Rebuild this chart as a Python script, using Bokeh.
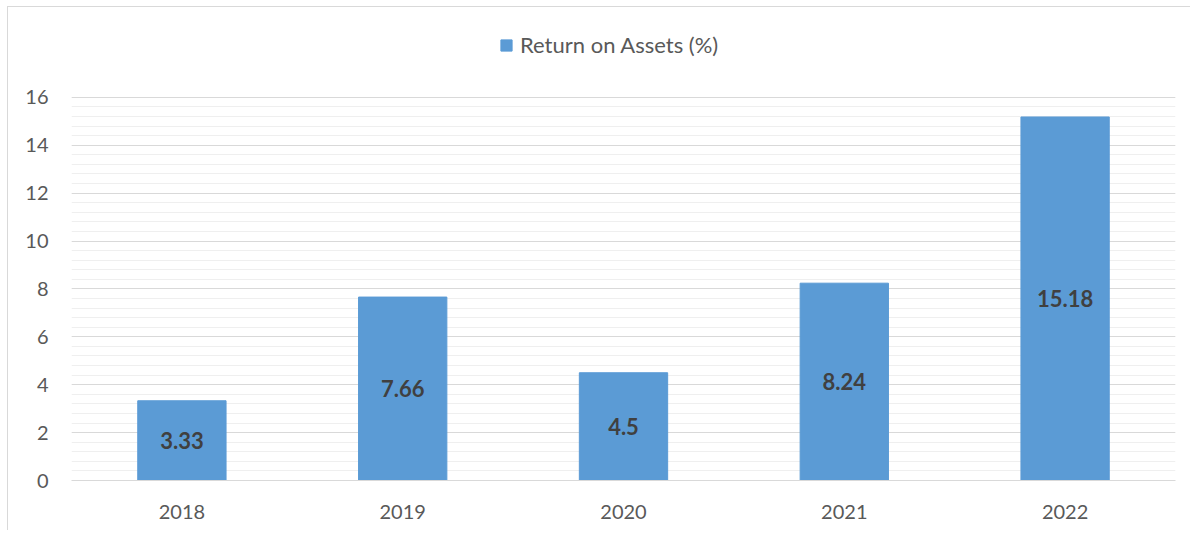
from bokeh.plotting import figure
from bokeh.models import ColumnDataSource, Legend, LegendItem, FixedTicker, Range1d
from bokeh.core.properties import value
from bokeh.embed import file_html
from bokeh.resources import INLINE

years = ["2018", "2019", "2020", "2021", "2022"]
roa = [3.33, 7.66, 4.5, 8.24, 15.18]
labels = ["3.33", "7.66", "4.5", "8.24", "15.18"]
y_ticks = [0, 2, 4, 6, 8, 10, 12, 14, 16]
series_name = "Return on Assets (%)"

src = ColumnDataSource(dict(x=years, top=roa, mid=[v / 2 for v in roa], lab=labels))

FONT = "Lato"
p = figure(x_range=years, y_range=Range1d(0, 19), width=1183, height=524,
           output_backend="svg", toolbar_location=None,
           min_border_left=63, min_border_right=16, min_border_top=18, min_border_bottom=51)
p.styles = {"border-left": "1px solid #d9d9d9", "border-top": "1px solid #d9d9d9",
            "margin-left": "7px", "margin-top": "6px"}
p.outline_line_color = None
p.background_fill_color = "white"

r = p.vbar(x="x", top="top", width=0.4, source=src, fill_color="#5B9BD5", line_color="#5B9BD5")
p.text(x="x", y="mid", text="lab", source=src, text_align="center", text_baseline="middle",
       text_font=value(FONT), text_font_size="22px", text_font_style="bold", text_color="#404040")

p.yaxis.ticker = FixedTicker(ticks=y_ticks, minor_ticks=[i * 0.4 for i in range(41)])
p.ygrid.grid_line_color = "#d9d9d9"
p.ygrid.minor_grid_line_color = "#efefef"
p.xgrid.grid_line_color = None

for ax in (p.xaxis, p.yaxis):
    ax.major_label_text_font = FONT
    ax.major_label_text_font_size = "20px"
    ax.major_label_text_color = "#595959"
    ax.major_tick_line_color = None
    ax.minor_tick_line_color = None
p.yaxis.axis_line_color = None
p.xaxis.axis_line_color = "#d9d9d9"
p.xaxis.major_label_standoff = 18
p.yaxis.major_label_standoff = 17

legend = Legend(items=[LegendItem(label=series_name, renderers=[r])], location=(428, 422),
                orientation="horizontal", border_line_color=None, background_fill_alpha=0,
                glyph_width=14, glyph_height=14, padding=0, margin=0, label_standoff=7,
                label_text_font=FONT, label_text_font_size="22px", label_text_color="#595959")
p.add_layout(legend, "center")

open("out.html", "w").write(file_html(p, INLINE))
